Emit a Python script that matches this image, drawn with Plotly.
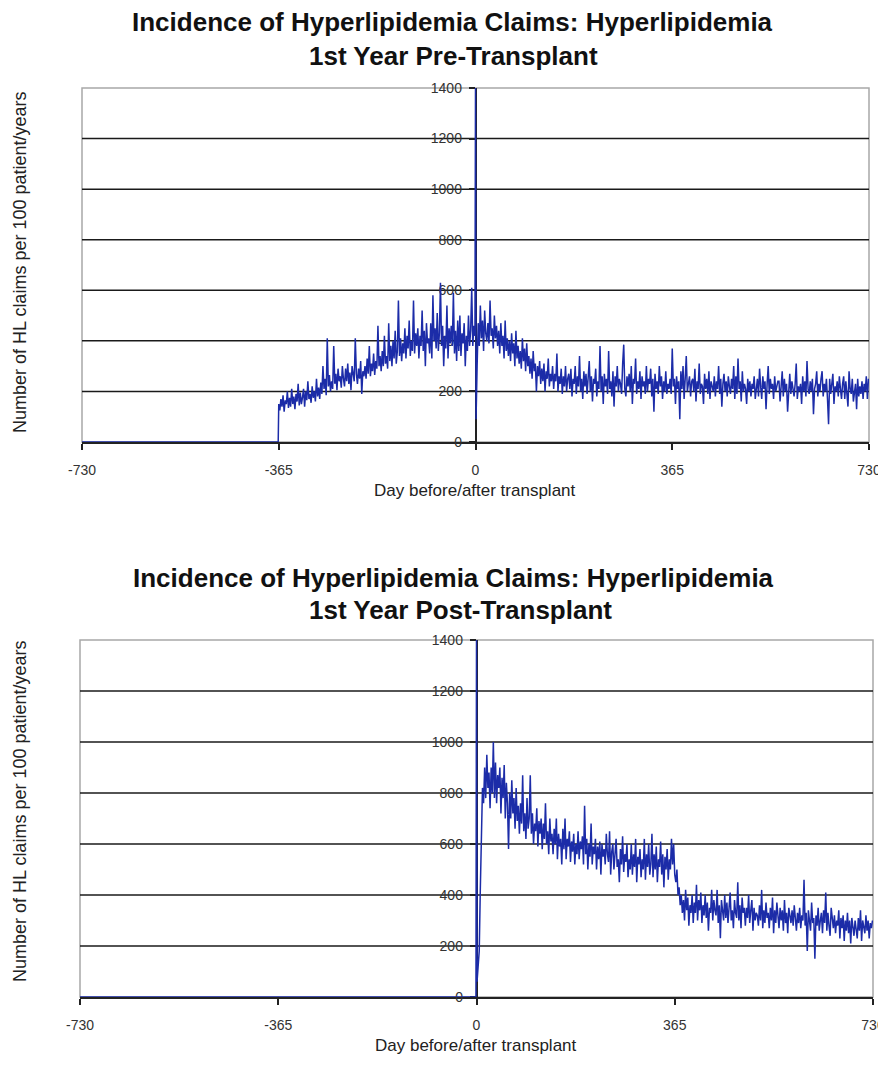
import plotly.graph_objects as go

# ---------------- data ----------------
x_ticks = [-730, -365, 0, 365, 730]
y_ticks = [0, 200, 400, 600, 800, 1000, 1200, 1400]

# Chart 1: 1st year pre-transplant
top_zero_days = [-730, -366]
top_zero_vals = [0, 0]
top_pre_start, top_pre_step = -365, 2
top_pre_vals = [
    150, 125, 170, 140, 185, 120, 165, 150, 200, 135,
    175, 140, 210, 150, 180, 130, 190, 160, 230, 145,
    195, 150, 175, 210, 140, 200, 165, 240, 170, 190,
    155, 220, 175, 200, 160, 250, 180, 215, 170, 235,
    190, 300, 210, 250, 185, 410, 220, 265, 200, 240,
    210, 380, 230, 270, 205, 290, 240, 260, 215, 300,
    250, 220, 290, 240, 310, 230, 275, 205, 300, 260,
    240, 410, 270, 230, 290, 250, 320, 190, 280, 260,
    300, 250, 330, 270, 380, 260, 310, 280, 350, 265,
    320, 290, 460, 300, 340, 280, 360, 300, 420, 310,
    340, 290, 470, 320, 380, 300, 400, 330, 440, 310,
    360, 560, 340, 410, 320, 390, 350, 450, 330, 420,
    370, 480, 340, 400, 360, 560, 350, 430, 380, 450,
    330, 420, 380, 520, 360, 440, 300, 470, 390, 410,
    350, 470, 330, 580, 400, 450, 370, 510, 360, 430,
    630, 380, 460, 300, 420, 370, 540, 330, 450, 390,
    460, 380, 590, 350, 440, 320, 480, 360, 500, 340,
    430, 390, 470, 300, 420, 360, 500, 380, 440, 610,
    380, 460, 420,
]
top_spike_days = [0, 1]
top_spike_vals = [1400, 90]
top_post_start, top_post_step = 3, 2
top_post_vals = [
    300, 470, 380, 540, 410, 480, 360, 520, 430, 400,
    470, 390, 560, 420, 450, 370, 500, 410, 460, 380,
    440, 350, 470, 380, 420, 330, 480, 360, 410, 340,
    400, 320, 430, 350, 390, 300, 440, 330, 380, 310,
    360, 290, 410, 320, 370, 280, 390, 300, 340, 270,
    330, 250, 360, 280, 310, 200, 300, 260, 320, 230,
    290, 240, 310, 200, 280, 250, 330, 220, 270, 240,
    300, 210, 270, 240, 350, 200, 260, 230, 290, 190,
    260, 220, 300, 200, 250, 270, 210, 290, 180, 250,
    230, 300, 190, 260, 220, 340, 200, 250, 170, 280,
    220, 270, 190, 240, 320, 200, 260, 160, 250, 230,
    290, 180, 240, 210, 380, 200, 260, 150, 270, 220,
    250, 190, 360, 210, 240, 180, 280, 140, 260, 220,
    300, 200, 250, 230, 190, 310, 385, 210, 180, 260,
    220, 270, 200, 300, 150, 250, 230, 330, 190, 240,
    210, 280, 170, 260, 220, 240, 190, 300, 200, 250,
    230, 290, 180, 250, 120, 270, 210, 240, 190, 300,
    220, 260, 170, 240, 200, 280, 190, 230, 210, 250,
    190, 370, 220, 250, 150, 260, 210, 240, 90, 280,
    210, 300, 170, 250, 340, 200, 230, 260, 180, 240,
    250, 200, 290, 160, 240, 210, 310, 190, 230, 220,
    150, 270, 210, 250, 190, 280, 170, 240, 220, 200,
    260, 180, 240, 210, 300, 190, 250, 140, 230, 270,
    200, 240, 180, 260, 220, 190, 250, 210, 300, 170,
    260, 190, 330, 210, 240, 160, 280, 200, 230, 210,
    150, 250, 200, 240, 180, 230, 210, 260, 170, 220,
    250, 180, 290, 220, 170, 260, 210, 240, 130, 230,
    300, 190, 250, 210, 230, 170, 260, 200, 220, 240,
    240, 160, 220, 280, 180, 250, 200, 230, 120, 210,
    270, 190, 240, 210, 180, 230, 310, 170, 220, 200,
    230, 150, 260, 200, 240, 180, 320, 210, 190, 240,
    200, 250, 110, 210, 230, 280, 180, 230, 200, 250,
    280, 180, 230, 200, 250, 170, 70, 250, 190, 230,
    270, 150, 220, 200, 240, 180, 260, 210, 170, 230,
    260, 170, 240, 190, 140, 280, 210, 190, 250, 160,
    210, 230, 130, 250, 180, 220, 190, 240, 170, 230,
    200, 260, 170, 250,
]

# Chart 2: 1st year post-transplant
bot_zero_days = [-730, -1]
bot_zero_vals = [0, 0]
bot_spike_days = [0]
bot_spike_vals = [1400]
bot_post_start, bot_post_step = 1, 2
bot_post_vals = [
    60, 120, 180, 420, 700, 820, 760, 900, 780, 950,
    820, 880, 740, 900, 800, 1000, 780, 920, 760, 870,
    820, 900, 720, 860, 780, 910, 700, 840, 760, 580,
    800, 700, 850, 720, 780, 660, 820, 690, 750, 640,
    760, 680, 870, 650, 720, 620, 780, 660, 700, 870,
    640, 720, 600, 680, 650, 740, 590, 690, 640, 700,
    580, 680, 620, 760, 600, 650, 560, 700, 610, 640,
    560, 660, 600, 700, 540, 640, 590, 620, 520, 660,
    580, 700, 540, 620, 590, 650, 530, 610, 570, 640,
    520, 600, 560, 650, 540, 610, 580, 630, 520, 750,
    560, 620, 500, 600, 550, 680, 520, 590, 560, 620,
    500, 590, 540, 610, 480, 600, 550, 580, 520, 640,
    560, 530, 650, 480, 570, 600, 500, 560, 620, 510,
    540, 450, 580, 520, 630, 490, 560, 530, 600, 470,
    540, 500, 600, 480, 560, 510, 620, 450, 550, 520,
    580, 470, 540, 500, 620, 460, 560, 510, 600, 480,
    520, 640, 470, 560, 500, 590, 450, 540, 510, 610,
    480, 560, 430, 550, 500, 580, 460, 540, 500, 620,
    520, 600, 480, 450, 500, 400, 430, 360, 400, 330,
    380, 300, 420, 340, 390, 280, 360, 330, 400, 290,
    370, 330, 440, 300, 380, 340, 410, 290, 360, 320,
    400, 310, 370, 260, 350, 330, 420, 300, 380, 340,
    320, 420, 290, 360, 230, 380, 340, 300, 400, 310,
    370, 290, 350, 410, 300, 340, 270, 380, 330, 310,
    450, 300, 360, 270, 390, 330, 350, 280, 350, 310,
    400, 290, 340, 380, 260, 350, 300, 330, 320, 280,
    360, 300, 420, 270, 340, 290, 370, 310, 330, 270,
    350, 300, 390, 250, 340, 290, 370, 310, 270, 350,
    300, 340, 260, 380, 290, 330, 250, 350, 310, 290,
    340, 280, 360, 300, 260, 330, 290, 350, 270, 320,
    300, 460, 280, 330, 180, 340, 300, 260, 370, 290,
    310, 150, 320, 280, 350, 260, 300, 330, 250, 340,
    290, 410, 260, 330, 280, 240, 350, 300, 270, 320,
    250, 300, 280, 340, 230, 310, 270, 320, 220, 300,
    260, 330, 250, 300, 210, 310, 280, 240, 300, 270,
    230, 310, 260, 340, 220, 300, 270, 250, 320, 260,
    300, 230, 290, 270, 300,
]

titles_top = ["Incidence of Hyperlipidemia Claims: Hyperlipidemia", "1st Year Pre-Transplant"]
titles_bot = ["Incidence of Hyperlipidemia Claims: Hyperlipidemia", "1st Year Post-Transplant"]
y_title = "Number of HL claims per 100 patient/years"
x_title = "Day before/after transplant"

# ---------------- assemble series ----------------
top_pre_days = [top_pre_start + top_pre_step * i for i in range(len(top_pre_vals))]
top_post_days = [top_post_start + top_post_step * i for i in range(len(top_post_vals))]
top_x = top_zero_days + top_pre_days + top_spike_days + top_post_days
top_y = top_zero_vals + top_pre_vals + top_spike_vals + top_post_vals

bot_post_days = [bot_post_start + bot_post_step * i for i in range(len(bot_post_vals))]
bot_x = bot_zero_days + bot_spike_days + bot_post_days
bot_y = bot_zero_vals + bot_spike_vals + bot_post_vals

# page body has an 8px margin: figure placed at (8, 8), reaching the right edge
OFF = 8
W, H = 886 - OFF, 1081 - 2 * OFF
LINE = "#1c2ca8"
FONT = "Liberation Sans, Arial, sans-serif"

def px_x(p):
    return (p - OFF) / W

def px_y(p):
    return 1 - (p - OFF) / H

fig = go.Figure()
fig.add_trace(go.Scatter(x=top_x, y=top_y, mode="lines",
                         line=dict(color=LINE, width=1.5), xaxis="x", yaxis="y",
                         showlegend=False, hoverinfo="x+y"))
fig.add_trace(go.Scatter(x=bot_x, y=bot_y, mode="lines",
                         line=dict(color=LINE, width=1.5), xaxis="x2", yaxis="y2",
                         showlegend=False, hoverinfo="x+y"))

top_dom_x = [px_x(82), px_x(869)]
top_dom_y = [px_y(442), px_y(88)]
bot_dom_x = [px_x(80), px_x(873)]
bot_dom_y = [px_y(997), px_y(640)]

tickfont = dict(family=FONT, size=14, color="#333333")

def xaxis_cfg(dom, anchor):
    return dict(domain=dom, anchor=anchor, range=[-730, 730], tickvals=x_ticks,
                ticktext=[str(v) for v in x_ticks], ticks="outside", ticklen=6,
                tickcolor="#222", tickwidth=1.5, showline=True, linecolor="#222",
                linewidth=1.5, showgrid=False, zeroline=False, tickfont=tickfont,
                ticklabelstandoff=8, ticklabeloverflow="allow",
                layer="below traces", fixedrange=True, automargin=False)

def yaxis_cfg(dom, pos):
    return dict(domain=dom, anchor="free", position=pos, range=[0, 1400],
                tickvals=y_ticks, ticks="outside", ticklen=6, tickcolor="#222",
                tickwidth=1.5, showline=True, linecolor="#222", linewidth=1.5,
                showgrid=False, zeroline=False, tickfont=tickfont,
                ticklabelstandoff=4, layer="below traces", fixedrange=True,
                automargin=False)

fig.update_layout(
    template="none",
    width=W, height=H, margin=dict(l=0, r=0, t=0, b=0, autoexpand=False),
    paper_bgcolor="white", plot_bgcolor="white",
    xaxis=xaxis_cfg(top_dom_x, "y"),
    yaxis=yaxis_cfg(top_dom_y, (top_dom_x[0] + top_dom_x[1]) / 2),
    xaxis2=xaxis_cfg(bot_dom_x, "y2"),
    yaxis2=yaxis_cfg(bot_dom_y, (bot_dom_x[0] + bot_dom_x[1]) / 2),
)

shapes = []
for xr, yr in (("x", "y"), ("x2", "y2")):
    # gray frame (left, top, right)
    shapes.append(dict(type="rect", xref=f"{xr} domain", yref=f"{yr} domain",
                       x0=0, x1=1, y0=0, y1=1, line=dict(color="#a8a8a8", width=1.5),
                       layer="below"))
    for v in y_ticks[1:-1]:
        shapes.append(dict(type="line", xref=f"{xr} domain", yref=yr, x0=0, x1=1,
                           y0=v, y1=v, line=dict(color="#1a1a1a", width=1.5),
                           layer="below"))
fig.update_layout(shapes=shapes)

ann = []
title_font = dict(family=FONT, size=26, color="#111111")
ann.append(dict(text="<b>" + titles_top[0] + "</b>", x=px_x(452), y=px_y(22)))
ann.append(dict(text="<b>" + titles_top[1] + "</b>", x=px_x(453), y=px_y(56)))
ann.append(dict(text="<b>" + titles_bot[0] + "</b>", x=px_x(453), y=px_y(578)))
ann.append(dict(text="<b>" + titles_bot[1] + "</b>", x=px_x(460), y=px_y(610)))
for a in ann:
    a.update(xref="paper", yref="paper", showarrow=False, xanchor="center",
             yanchor="middle", font=title_font)

lab_font = dict(family=FONT, size=18, color="#222222")
for yc in (262, 811):
    ann.append(dict(text=y_title, x=px_x(20), y=px_y(yc), xref="paper", yref="paper",
                    showarrow=False, textangle=-90, xanchor="center", yanchor="middle",
                    font=lab_font))
xlab_font = dict(family=FONT, size=17, color="#222222")
for xc, yc in ((475, 490), (476, 1045)):
    ann.append(dict(text=x_title, x=px_x(xc), y=px_y(yc), xref="paper", yref="paper",
                    showarrow=False, xanchor="center", yanchor="middle", font=xlab_font))
fig.update_layout(annotations=ann)

fig.write_html("out.html")
